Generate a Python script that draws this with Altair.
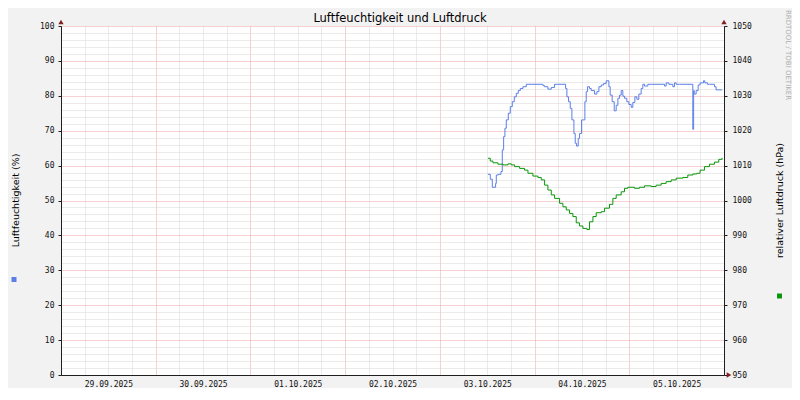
import altair as alt
import pandas as pd

# Hours after 03.10.2025 00:00 and values
hum_hours = [12.19, 12.78, 13.29, 14.13, 14.30, 14.81, 15.48, 15.82, 16.16, 16.49,
             16.83, 17.34, 17.84, 18.35, 18.86, 19.36, 19.87, 20.38, 21.05, 21.90,
             22.57, 26.12, 26.54, 27.38, 28.23, 29.07, 29.91, 31.86, 32.19, 32.61,
             33.04, 33.46, 33.97, 34.30, 34.64, 35.06, 35.40, 35.91, 36.24, 36.75,
             37.09, 37.43, 37.93, 38.35, 39.20, 39.79, 40.30, 40.89, 41.48, 42.15,
             42.83, 43.16, 43.67, 44.18, 44.68, 45.11, 45.53, 45.95, 46.37, 46.79,
             47.38, 47.89, 48.48, 48.90, 49.41, 49.92, 50.42, 51.01, 51.44, 51.86,
             52.70, 53.97, 56.92, 57.34, 58.02, 59.03, 59.45, 59.88, 60.72, 64.10,
             64.30, 64.45, 64.94, 65.45, 65.95, 66.80, 67.13, 67.81, 68.32, 69.58,
             70.00, 70.68, 71.52]
hum_values = [57.5, 56.1, 53.8, 54.9, 57.3, 57.5, 58.3, 64.5, 68.3, 70.7,
              73.1, 75.0, 76.9, 78.3, 79.7, 80.7, 81.5, 82.1, 82.6, 83.3,
              83.3, 82.9, 82.6, 81.9, 82.4, 83.3, 83.3, 82.1, 79.7, 78.3,
              76.4, 73.1, 69.2, 66.4, 65.6, 67.8, 69.2, 73.1, 73.1, 78.3,
              81.2, 82.6, 82.1, 81.5, 80.5, 81.2, 82.6, 83.1, 83.5, 84.3,
              82.6, 80.2, 78.3, 75.7, 77.3, 79.3, 80.2, 81.5, 79.9, 79.3,
              78.3, 77.5, 76.7, 78.1, 79.7, 79.0, 80.5, 82.1, 83.3, 82.8,
              83.3, 83.3, 82.8, 83.7, 83.3, 82.6, 83.7, 83.3, 83.3, 70.4,
              81.5, 80.5, 81.5, 83.1, 83.7, 84.3, 83.7, 83.3, 83.3, 82.6,
              81.7, 81.7, 81.7]

pres_hours = [12.19, 12.78, 13.46, 14.72, 15.99, 17.25, 18.10, 18.94, 20.21, 21.47,
              22.32, 23.58, 24.85, 25.69, 26.54, 27.38, 28.23, 29.07, 30.34, 31.18,
              32.02, 32.87, 33.71, 34.56, 35.40, 36.24, 37.26, 37.93, 38.78, 39.62,
              40.89, 41.73, 42.99, 43.84, 44.68, 45.95, 46.79, 47.64, 49.33, 50.59,
              51.86, 53.55, 54.81, 56.08, 57.34, 58.61, 59.88, 61.56, 62.83, 64.10,
              65.11, 65.95, 67.05, 68.32, 69.58, 70.68, 71.52]
pres_values = [1012.1, 1011.3, 1010.8, 1010.4, 1010.2, 1010.5, 1010.2, 1009.7, 1009.2, 1008.7,
               1007.8, 1007.0, 1006.6, 1005.9, 1004.4, 1003.0, 1001.6, 1000.6, 999.2, 998.2,
               997.3, 996.3, 995.4, 993.6, 992.7, 992.0, 991.7, 993.9, 995.4, 996.5,
               996.8, 997.8, 998.9, 1000.6, 1001.6, 1002.5, 1003.5, 1003.8, 1003.5, 1003.8,
               1004.2, 1004.0, 1004.4, 1004.9, 1005.4, 1005.9, 1006.4, 1006.6, 1007.3, 1007.6,
               1007.8, 1008.7, 1009.7, 1010.4, 1011.0, 1011.8, 1012.2]

# x axis: days shown (label at noon, major grid at midnight, minor every 6 h)
days = [(2025, 9, 29), (2025, 9, 30), (2025, 10, 1), (2025, 10, 2),
        (2025, 10, 3), (2025, 10, 4), (2025, 10, 5), (2025, 10, 6)]
tick_hours = [0, 6, 12, 18]

TITLE = "Luftfeuchtigkeit und Luftdruck"
LEFT_TITLE = "Luftfeuchtigkeit (%)"
RIGHT_TITLE = "relativer Luftdruck (hPa)"
WATERMARK = "RRDTOOL / TOBI OETIKER"

BASE = pd.Timestamp("2025-10-03 00:00")


def to_time(hours):
    return [(BASE + pd.Timedelta(hours=h)).strftime("%Y-%m-%dT%H:%M:%S") for h in hours]


hum_df = pd.DataFrame({"t": to_time(hum_hours), "v": hum_values})
pres_df = pd.DataFrame({"t": to_time(pres_hours), "v": pres_values})

x_values = []
for (yy, mm, dd) in days:
    for hh in tick_hours:
        x_values.append(alt.DateTime(year=yy, month=mm, date=dd, hours=hh))
        if (yy, mm, dd) == days[-1]:
            break

MAJOR = "#eda3a3"
MINOR = "#d6d6d6"
AXIS = "#1f1f1f"
ARROW = "#801f1f"
BLUE = "#5b7fe8"
GREEN = "#0a960a"

x_enc = alt.X(
    "t:T",
    scale=alt.Scale(domain=[alt.DateTime(year=2025, month=9, date=29),
                            alt.DateTime(year=2025, month=10, date=6)]),
    axis=alt.Axis(
        title=None,
        values=x_values,
        labelExpr="hours(datum.value) === 12 ? timeFormat(datum.value, '%d.%m.%Y') : ''",
        labelOverlap=False,
        labelFlush=False,
        labelFont="DejaVu Sans Mono",
        labelFontSize=8,
        labelColor="#111111",
        labelPadding=5,
        ticks=False,
        domainColor=AXIS,
        grid=True,
        gridColor={"condition": {"test": "hours(datum.value) === 0", "value": MAJOR}, "value": MINOR},
        gridDash=[1, 1],
        gridWidth=1,
    ),
)

hum = alt.Chart(hum_df).mark_line(color=BLUE, strokeWidth=1, interpolate="step-after").encode(
    x=x_enc,
    y=alt.Y(
        "v:Q",
        scale=alt.Scale(domain=[0, 100], nice=False),
        axis=alt.Axis(
            title=LEFT_TITLE,
            orient="left",
            values=list(range(0, 101, 2)),
            labelExpr="datum.value % 10 === 0 ? datum.label : ''",
            labelFont="DejaVu Sans Mono",
            labelFontSize=8,
            labelColor="#111111",
            labelPadding=4,
            tickSize=3,
            tickColor=AXIS,
            tickOpacity={"condition": {"test": "datum.value % 10 === 0", "value": 1}, "value": 0},
            domainColor=AXIS,
            grid=True,
            gridColor={"condition": {"test": "datum.value % 10 === 0", "value": MAJOR}, "value": MINOR},
            gridDash=[1, 1],
            gridWidth=1,
            titleFont="DejaVu Sans",
            titleFontSize=9.5,
            titleFontWeight="normal",
            titleColor="black",
            titleAngle=270,
            titleAlign="center",
            titleBaseline="middle",
            titleX=-46,
            titleY=174,
        ),
    ),
)

pres = alt.Chart(pres_df).mark_line(color=GREEN, strokeWidth=1, interpolate="step-after").encode(
    x=x_enc,
    y=alt.Y(
        "v:Q",
        scale=alt.Scale(domain=[950, 1050], nice=False, zero=False),
        axis=alt.Axis(
            title=RIGHT_TITLE,
            orient="right",
            values=list(range(950, 1051, 10)),
            format="d",
            labelFont="DejaVu Sans Mono",
            labelFontSize=8,
            labelColor="#111111",
            labelPadding=5,
            tickSize=3,
            tickColor=AXIS,
            domainColor=AXIS,
            grid=False,
            titleFont="DejaVu Sans",
            titleFontSize=9.5,
            titleFontWeight="normal",
            titleColor="black",
            titleAngle=270,
            titleAlign="center",
            titleBaseline="middle",
            titleX=55,
            titleY=174,
        ),
    ),
)

one = pd.DataFrame({"k": [0]})

title_mark = alt.Chart(one).mark_text(
    text=TITLE, fontSize=11.5, font="DejaVu Sans", color="black",
    align="center", baseline="middle").encode(x=alt.value(339), y=alt.value(-7))

arrow_left = alt.Chart(one).mark_point(shape="triangle-up", filled=True, size=28, color=ARROW, opacity=1).encode(
    x=alt.value(0), y=alt.value(-4))
arrow_right = alt.Chart(one).mark_point(shape="triangle-up", filled=True, size=28, color=ARROW, opacity=1).encode(
    x=alt.value(663), y=alt.value(-4))
arrow_x = alt.Chart(one).mark_point(shape="triangle-right", filled=True, size=28, color=ARROW, opacity=1).encode(
    x=alt.value(668), y=alt.value(349))

legend_blue = alt.Chart(one).mark_square(size=25, color=BLUE, opacity=1).encode(
    x=alt.value(-47), y=alt.value(253.5))
legend_green = alt.Chart(one).mark_square(size=25, color=GREEN, opacity=1).encode(
    x=alt.value(718.5), y=alt.value(270))

watermark = alt.Chart(one).mark_text(
    text=WATERMARK, angle=90, fontSize=7, font="DejaVu Sans", color="#b0b0b0",
    align="center", baseline="middle").encode(x=alt.value(727), y=alt.value(29))

chart = alt.layer(
    hum, pres, title_mark, arrow_left, arrow_right, arrow_x, legend_blue, legend_green, watermark
).resolve_scale(
    y="independent"
).properties(
    width=663,
    height=349,
    autosize=alt.AutoSizeParams(type="none"),
    padding={"left": 53, "top": 18, "right": 68, "bottom": 13},
    background="#f2f2f2",
).configure_view(
    stroke=None,
    fill="white",
)

chart.save("out.html", embed_options={"renderer": "svg", "actions": False})
